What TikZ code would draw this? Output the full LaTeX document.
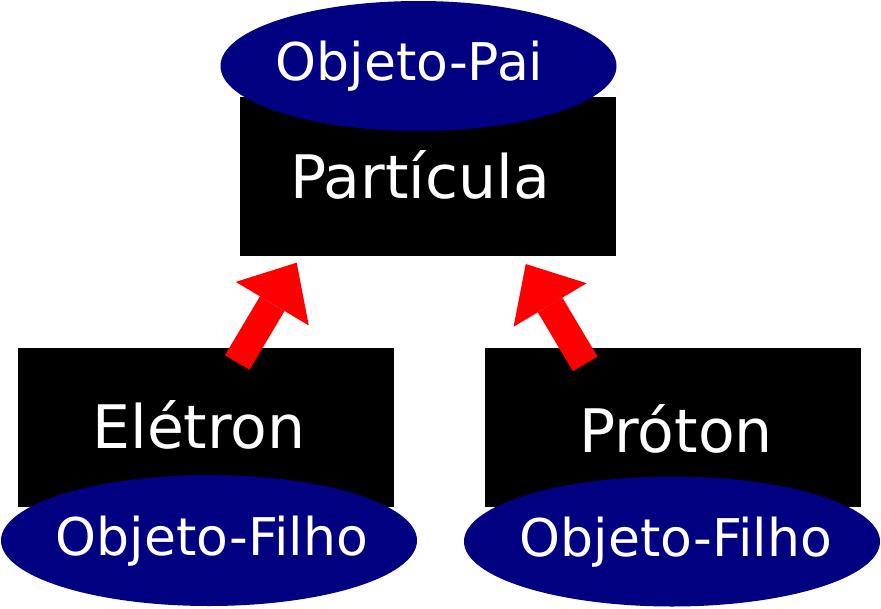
\documentclass[tikz,border=0pt]{standalone}
\usepackage{fontspec}
\setmainfont{DejaVu Sans}
\usetikzlibrary{arrows.meta,shapes.geometric}
\definecolor{objnavy}{RGB}{0,0,128}
\definecolor{arrred}{RGB}{255,0,0}
\tikzset{
  classbox/.style={draw=none, fill=black, inner sep=0pt, minimum width=376pt, minimum height=159pt},
  objoval/.style={ellipse, draw=none, fill=objnavy, inner sep=0pt, minimum width=416pt, minimum height=131pt},
  bigtext/.style={anchor=base, text=white, inner sep=0pt, font=\fontsize{60}{72}\selectfont},
  ovaltext/.style={anchor=base, text=white, inner sep=0pt, font=\fontsize{52}{62}\selectfont},
  inherit/.style={draw=arrred, line width=28.6pt,
    -{Triangle[length=47.7pt, width=85pt, line width=0pt]}}
}
\begin{document}
\begin{tikzpicture}[x=1pt,y=-1pt]
\useasboundingbox (0,0) rectangle (881,608);
% class boxes
\node[classbox] (part) at (428,176.5) {};
\node[classbox] (elet) at (206,427.5) {};
\node[classbox] (prot) at (673,427.5) {};
% object ovals
\node[objoval, minimum width=396pt, minimum height=130pt] (pai) at (418.5,66) {};
\node[objoval] (filhoA) at (209,540.5) {};
\node[objoval, minimum height=130pt] (filhoB) at (672,541.5) {};
% texts
\node[ovaltext] (tpai) at (409.5,80) {Objeto-Pai};
\node[bigtext] (tpart) at (420,198) {Partícula};
\node[bigtext] (telet) at (199,448) {Elétron};
\node[bigtext] (tprot) at (676,452.7) {Próton};
\node[ovaltext] (tfa) at (212,555) {Objeto-Filho};
\node[ovaltext] (tfb) at (676,556.7) {Objeto-Filho};
% inheritance arrows
\coordinate (la1) at (237.2,362.5);
\coordinate (la2) at (296.7,262.7);
\coordinate (ra1) at (585.2,363.9);
\coordinate (ra2) at (525.7,264);
\draw[inherit] (la1) -- (la2);
\draw[inherit] (ra1) -- (ra2);
\end{tikzpicture}
\end{document}
